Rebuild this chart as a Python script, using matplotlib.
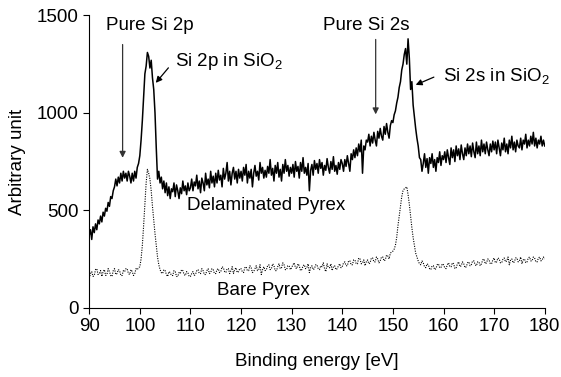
import numpy as np
import matplotlib
matplotlib.use("Agg")
import matplotlib.pyplot as plt

plt.rcParams['font.family'] = ['Liberation Sans', 'DejaVu Sans']
plt.rcParams['mathtext.fontset'] = 'custom'
plt.rcParams['mathtext.rm'] = 'Liberation Sans'
plt.rcParams['mathtext.it'] = 'Liberation Sans'
plt.rcParams['mathtext.default'] = 'regular'

# binding energy grid: 90 -> 180 eV, 0.25 eV step
e_start, e_step = 90.0, 0.25

# spectrum of delaminated Pyrex, 20 points = 5 eV per row
delaminated = [
    370, 400, 350, 415, 385, 430, 400, 450, 430, 470, 440, 490, 470, 510, 495, 540, 520, 570, 560, 600,
    620, 660, 625, 670, 640, 690, 650, 700, 665, 690, 650, 700, 675, 640, 690, 650, 700, 665, 720, 740,
    780, 860, 960, 1080, 1200, 1240, 1310, 1290, 1230, 1270, 1180, 1120, 1000, 820, 660, 700, 640, 670, 610, 650,
    590, 640, 575, 620, 560, 610, 595, 640, 570, 630, 600, 560, 615, 585, 650, 600, 625, 580, 640, 600,
    615, 660, 600, 645, 625, 680, 610, 650, 590, 665, 640, 600, 690, 630, 660, 615, 700, 640, 675, 620,
    690, 640, 705, 655, 680, 620, 715, 660, 690, 745, 650, 700, 630, 690, 720, 660, 700, 640, 710, 665,
    700, 650, 720, 680, 735, 640, 700, 665, 710, 620, 690, 730, 675, 700, 655, 745, 690, 720, 665, 705,
    670, 725, 690, 760, 680, 715, 650, 730, 690, 745, 670, 710, 650, 735, 690, 760, 700, 730, 675, 720,
    690, 735, 670, 750, 700, 725, 665, 745, 700, 770, 690, 720, 680, 740, 600, 705, 735, 680, 755, 710,
    740, 690, 760, 715, 745, 680, 730, 705, 765, 720, 690, 750, 710, 775, 700, 730, 685, 745, 710, 760,
    740, 700, 760, 725, 780, 740, 700, 790, 760, 810, 770, 820, 780, 840, 800, 860, 690, 830, 810, 860,
    850, 890, 830, 880, 845, 900, 860, 830, 905, 870, 920, 880, 860, 930, 890, 945, 900, 870, 935, 960,
    950, 990, 1010, 1050, 1080, 1130, 1160, 1220, 1250, 1300, 1330, 1250, 1380, 1280, 1120, 1160, 1040, 980, 920, 870,
    830, 770, 760, 700, 740, 790, 720, 765, 690, 770, 740, 790, 720, 760, 700, 770, 745, 800, 730, 780,
    760, 800, 745, 810, 770, 735, 820, 770, 810, 750, 830, 780, 815, 760, 835, 790, 760, 820, 780, 840,
    790, 830, 775, 845, 800, 770, 850, 790, 830, 780, 860, 800, 840, 790, 850, 810, 780, 840, 800, 855,
    810, 850, 790, 860, 820, 780, 845, 810, 870, 800, 840, 790, 860, 820, 880, 810, 850, 800, 860, 830,
    820, 870, 810, 860, 840, 890, 820, 860, 830, 880, 840, 900, 830, 870, 820, 860, 840, 880, 830, 860,
    830,
]

# spectrum of bare Pyrex
bare = [
    150, 175, 185, 160, 165, 195, 200, 170, 175, 190, 160, 185, 195, 165, 170, 200, 185, 165, 160, 190,
    200, 170, 175, 195, 190, 165, 165, 190, 185, 200, 200, 175, 170, 195, 185, 165, 175, 200, 195, 205,
    210, 250, 320, 420, 530, 640, 710, 690, 660, 600, 520, 450, 380, 320, 260, 220, 195, 180, 175, 195,
    190, 170, 160, 185, 180, 165, 165, 190, 185, 160, 160, 180, 175, 195, 190, 170, 165, 185, 180, 160,
    160, 175, 185, 165, 170, 190, 195, 175, 175, 200, 190, 170, 170, 190, 200, 175, 180, 200, 195, 175,
    175, 195, 200, 180, 185, 210, 205, 185, 180, 200, 200, 175, 190, 210, 175, 195, 205, 180, 185, 200,
    200, 185, 180, 205, 210, 190, 190, 215, 205, 180, 185, 200, 215, 190, 195, 220, 170, 195, 210, 190,
    195, 215, 220, 195, 200, 225, 215, 190, 190, 210, 225, 200, 205, 230, 220, 195, 195, 215, 215, 195,
    205, 220, 230, 205, 200, 225, 215, 190, 195, 215, 220, 200, 205, 225, 180, 205, 215, 195, 200, 220,
    220, 200, 195, 215, 210, 230, 200, 185, 225, 205, 205, 225, 190, 210, 215, 195, 200, 215, 225, 205,
    210, 230, 235, 215, 215, 240, 240, 220, 220, 245, 245, 225, 225, 255, 250, 225, 230, 245, 215, 235,
    245, 225, 230, 255, 255, 235, 235, 260, 250, 230, 240, 260, 260, 240, 245, 270, 265, 250, 280, 285,
    290, 300, 320, 360, 420, 470, 520, 570, 600, 610, 615, 620, 580, 530, 470, 410, 360, 320, 280, 260,
    240, 225, 220, 240, 230, 210, 205, 225, 220, 200, 195, 215, 215, 195, 200, 220, 225, 205, 205, 225,
    220, 205, 200, 220, 230, 210, 210, 230, 225, 200, 205, 225, 235, 210, 215, 235, 225, 205, 210, 230,
    235, 215, 220, 240, 240, 220, 215, 235, 235, 215, 225, 245, 250, 225, 230, 250, 245, 225, 225, 245,
    255, 230, 235, 255, 250, 230, 230, 250, 255, 235, 240, 260, 220, 245, 250, 230, 235, 255, 255, 235,
    240, 260, 225, 245, 250, 230, 235, 255, 260, 240, 240, 260, 255, 235, 235, 255, 260, 240, 245, 260,
    250,
]

x_ticks = [90, 100, 110, 120, 130, 140, 150, 160, 170, 180]
y_ticks = [0, 500, 1000, 1500]

energy_d = e_start + e_step * np.arange(len(delaminated))
energy_b = e_start + e_step * np.arange(len(bare))

fig = plt.figure(figsize=(5.61, 3.77), dpi=100)
ax = fig.add_axes([0.159, 0.184, 0.812, 0.775])

ax.plot(energy_d, delaminated, color='black', lw=1.1)
ax.plot(energy_b, bare, color='black', lw=0.8, linestyle=(0, (1, 1.2)))

ax.set_xlim(90, 180)
ax.set_ylim(0, 1500)
ax.set_xticks(x_ticks)
ax.set_yticks(y_ticks)
for s in ['top', 'right']:
    ax.spines[s].set_visible(False)

fs = 13.5
ax.tick_params(direction='out', length=4, labelsize=fs, width=0.8)
ax.set_xlabel('Binding energy [eV]', fontsize=fs, labelpad=13)
ax.set_ylabel('Arbitrary unit', fontsize=fs, labelpad=8)

arrow_kw = dict(arrowstyle='-|>', lw=0.9, mutation_scale=9)
ax.text(101.9, 1446, 'Pure Si 2p', ha='center', va='center', fontsize=fs)
ax.annotate('', xy=(96.6, 755), xytext=(96.6, 1365),
            arrowprops=dict(color='#333333', **arrow_kw))
ax.text(107.0, 1262, 'Si 2p in SiO$_2$', ha='left', va='center', fontsize=fs)
ax.annotate('', xy=(102.8, 1143), xytext=(106.0, 1242),
            arrowprops=dict(color='black', **arrow_kw))
ax.text(144.7, 1451, 'Pure Si 2s', ha='center', va='center', fontsize=fs)
ax.annotate('', xy=(146.6, 978), xytext=(146.6, 1391),
            arrowprops=dict(color='#333333', **arrow_kw))
ax.text(159.9, 1190, 'Si 2s in SiO$_2$', ha='left', va='center', fontsize=fs)
ax.annotate('', xy=(154.0, 1138), xytext=(158.6, 1189),
            arrowprops=dict(color='black', **arrow_kw))
ax.text(124.9, 523, 'Delaminated Pyrex', ha='center', va='center', fontsize=fs)
ax.text(124.5, 90, 'Bare Pyrex', ha='center', va='center', fontsize=fs)

fig.savefig('out.png', dpi=100)
